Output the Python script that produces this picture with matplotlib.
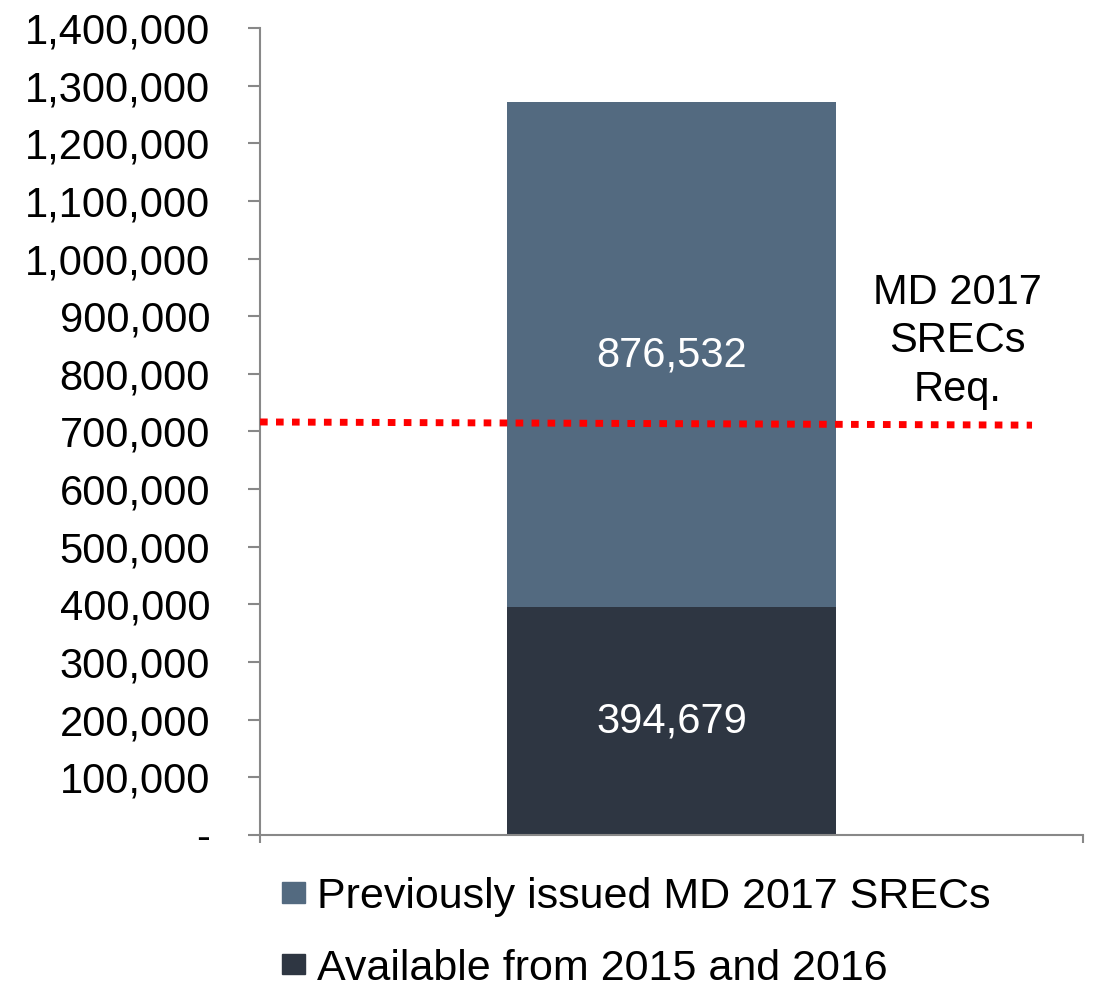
import numpy as np
import matplotlib.pyplot as plt
from matplotlib.ticker import FuncFormatter
from matplotlib.patches import Patch

plt.rcParams['font.family'] = ['Liberation Sans', 'DejaVu Sans']

# ---- data ----
category = ['2017']
available = [394679]          # Available from 2015 and 2016
previous = [876532]           # Previously issued MD 2017 SRECs
req_x = [-1.0, 0.876]         # extent of the requirement line (category units)
req_val = [716500, 711000]    # MD 2017 SRECs requirement
yticks = np.arange(0, 1400001, 100000)

col_prev = '#536A80'
col_avail = '#2E3642'

fig = plt.figure(figsize=(10.94, 9.92), dpi=100)
ax = fig.add_axes([0.2377, 0.1583, 0.7523, 0.8135])

x = np.arange(len(category))
ax.bar(x, available, width=0.8, color=col_avail, zorder=2)
ax.bar(x, previous, width=0.8, bottom=available, color=col_prev, zorder=2)

ax.text(x[0], available[0] / 2, f'{available[0]:,}', color='white',
        ha='center', va='center', fontsize=30)
ax.text(x[0], available[0] + previous[0] / 2 - 2000, f'{previous[0]:,}', color='white',
        ha='center', va='center', fontsize=30)

ax.plot(req_x, req_val, color='#FF0000', lw=5, linestyle=(0, (1.1, 1.2)),
        dash_capstyle='butt', zorder=3, clip_on=False)
ax.text(0.694, 975000, 'MD 2017\nSRECs\nReq.', ha='center', va='top',
        fontsize=30, linespacing=1.27)

ax.set_xlim(-1, 1)
ax.set_ylim(0, 1400000)
ax.set_yticks(yticks)
ax.yaxis.set_major_formatter(FuncFormatter(lambda v, p: '-' if v == 0 else f'{int(v):,}'))
ax.set_xticks([-1, 1])
ax.set_xticklabels(['', ''])

for s in ['top', 'right']:
    ax.spines[s].set_visible(False)
for s in ['left', 'bottom']:
    ax.spines[s].set_color('#888888')
    ax.spines[s].set_linewidth(1.5)
ax.tick_params(axis='y', length=9, width=1.5, color='#888888', pad=27, labelsize=30)
ax.tick_params(axis='x', length=6, width=1.5, color='#888888')

handles = [Patch(color=col_prev), Patch(color=col_avail)]
labels = ['Previously issued MD 2017 SRECs', 'Available from 2015 and 2016']
fig.legend(handles, labels, loc='upper left', bbox_to_anchor=(0.258, 0.116),
           frameon=False, fontsize=31, handlelength=0.53, handleheight=0.34,
           handletextpad=0.28, labelspacing=0.74, borderaxespad=0, borderpad=0)

fig.savefig('out.png', dpi=100)
